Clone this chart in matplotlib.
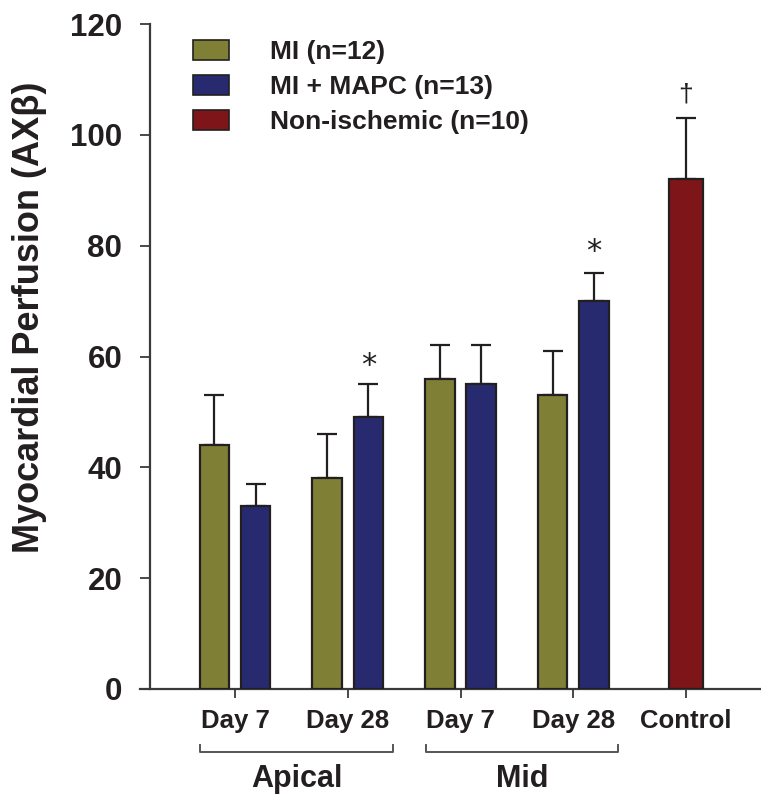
import matplotlib
matplotlib.use("Agg")
import matplotlib.pyplot as plt
from matplotlib.patches import Patch
import matplotlib.transforms as mtransforms
import numpy as np

plt.rcParams['font.family'] = ['Liberation Sans', 'DejaVu Sans']
plt.rcParams['font.weight'] = 'bold'

# ---- data ----
tick_labels = ["Day 7", "Day 28", "Day 7", "Day 28", "Control"]
group_labels = ["Apical", "Mid"]
mi_mean = [44, 38, 56, 53]
mi_err = [9, 8, 6, 8]
mapc_mean = [33, 49, 55, 70]
mapc_err = [4, 6, 7, 5]
ctrl_mean = [92]
ctrl_err = [11]
series_labels = ["MI (n=12)", "MI + MAPC (n=13)", "Non-ischemic (n=10)"]
star_values = [58.3, 78.9]   # asterisk heights above MAPC Apical Day 28 / Mid Day 28
dagger_value = [107.3]

C_MI = "#7f7f35"
C_MAPC = "#282a70"
C_CTRL = "#7e1518"
EDGE = "#231f20"
AX = "#3a3a3a"

W, H = 761, 798
fig = plt.figure(figsize=(W / 100, H / 100), dpi=100)
# axes from x=140..761 px, y=24..689 px
ax = fig.add_axes([140 / W, 1 - 689 / H, (761 - 140) / W, (689 - 24) / H])

x = np.arange(4)
off = 0.182
bw = 0.262
ax.bar(x - off, mi_mean, bw, color=C_MI, edgecolor=EDGE, linewidth=1.6, zorder=3)
ax.bar(x + off, mapc_mean, bw, color=C_MAPC, edgecolor=EDGE, linewidth=1.6, zorder=3)
ax.bar([4], ctrl_mean, 0.295, color=C_CTRL, edgecolor=EDGE, linewidth=1.6, zorder=3)

ekw = dict(fmt='none', ecolor=EDGE, elinewidth=1.6, capsize=7.5, capthick=1.6, zorder=2)
ax.errorbar(x - off, mi_mean, yerr=[np.zeros(4), mi_err], **ekw)
ax.errorbar(x + off, mapc_mean, yerr=[np.zeros(4), mapc_err], **ekw)
ax.errorbar([4], ctrl_mean, yerr=[[0], ctrl_err], **ekw)

# significance markers
for xi, yv in zip([1 + off, 3 + off], star_values):
    ax.text(xi, yv, "*", ha='center', va='center', fontsize=22, fontweight='normal',
            color=EDGE, family=['DejaVu Sans'])
ax.text(4, dagger_value[0], "\u2020", ha='center', va='center', fontsize=19,
        fontweight='normal', color=EDGE)

x_left = (140 - 235) / 112.75
x_right = (761 - 235) / 112.75
ax.set_xlim(x_left, x_right)
ax.set_ylim(0, 120)

for s in ['top', 'right']:
    ax.spines[s].set_visible(False)
ax.spines['left'].set_position(('data', (150 - 235) / 112.75))
ax.spines['left'].set_color(AX)
ax.spines['bottom'].set_color(AX)
ax.spines['left'].set_linewidth(1.6)
ax.spines['bottom'].set_linewidth(1.6)

ax.set_yticks([0, 20, 40, 60, 80, 100, 120])
ax.set_xticks(range(5))
ax.set_xticklabels(tick_labels)
ax.tick_params(axis='y', direction='out', length=7, width=1.3, color=AX,
               labelsize=22.5, pad=13, labelcolor=EDGE)
ax.tick_params(axis='x', direction='out', length=6.5, width=1.3, color=AX,
               labelsize=18.5, pad=8, labelcolor=EDGE)
for lab in ax.get_yticklabels() + ax.get_xticklabels():
    lab.set_fontweight('bold')

ax.set_ylabel("Myocardial Perfusion (AX\u03b2)", fontsize=26, fontweight='bold', color=EDGE)
ax.yaxis.set_label_coords(47 / W, 1 - 317 / H, transform=fig.transFigure)

# group brackets
trans = mtransforms.blended_transform_factory(ax.transData, ax.transAxes)
y_line = (689 - 752) / 665
y_tick = (689 - 745) / 665
y_text = (689 - 787) / 665
groups = [(0, 1), (2, 3)]
for (a, b), lab in zip(groups, group_labels):
    l, r = a - 0.31, b + 0.40
    ax.plot([l, l, r, r], [y_tick, y_line, y_line, y_tick], color="#555555",
            lw=1.4, transform=trans, clip_on=False)
    ax.text((l + r) / 2, y_text, lab, transform=trans, ha='center', va='baseline',
            fontsize=22, fontweight='bold', color=EDGE)

# legend
handles = [Patch(facecolor=c, edgecolor=EDGE, linewidth=1.2) for c in (C_MI, C_MAPC, C_CTRL)]
fs = 19
fpx = fs * 100 / 72
leg = ax.legend(handles, series_labels, loc='upper left',
                bbox_to_anchor=(193 / W, 1 - 40 / H), bbox_transform=fig.transFigure,
                frameon=False, borderpad=0, borderaxespad=0,
                handlelength=36 / fpx, handleheight=20 / fpx,
                handletextpad=(270 - 229) / fpx, labelspacing=0.42,
                prop={'size': fs, 'weight': 'bold'})
for t in leg.get_texts():
    t.set_color(EDGE)

fig.savefig("out.png", dpi=100)
